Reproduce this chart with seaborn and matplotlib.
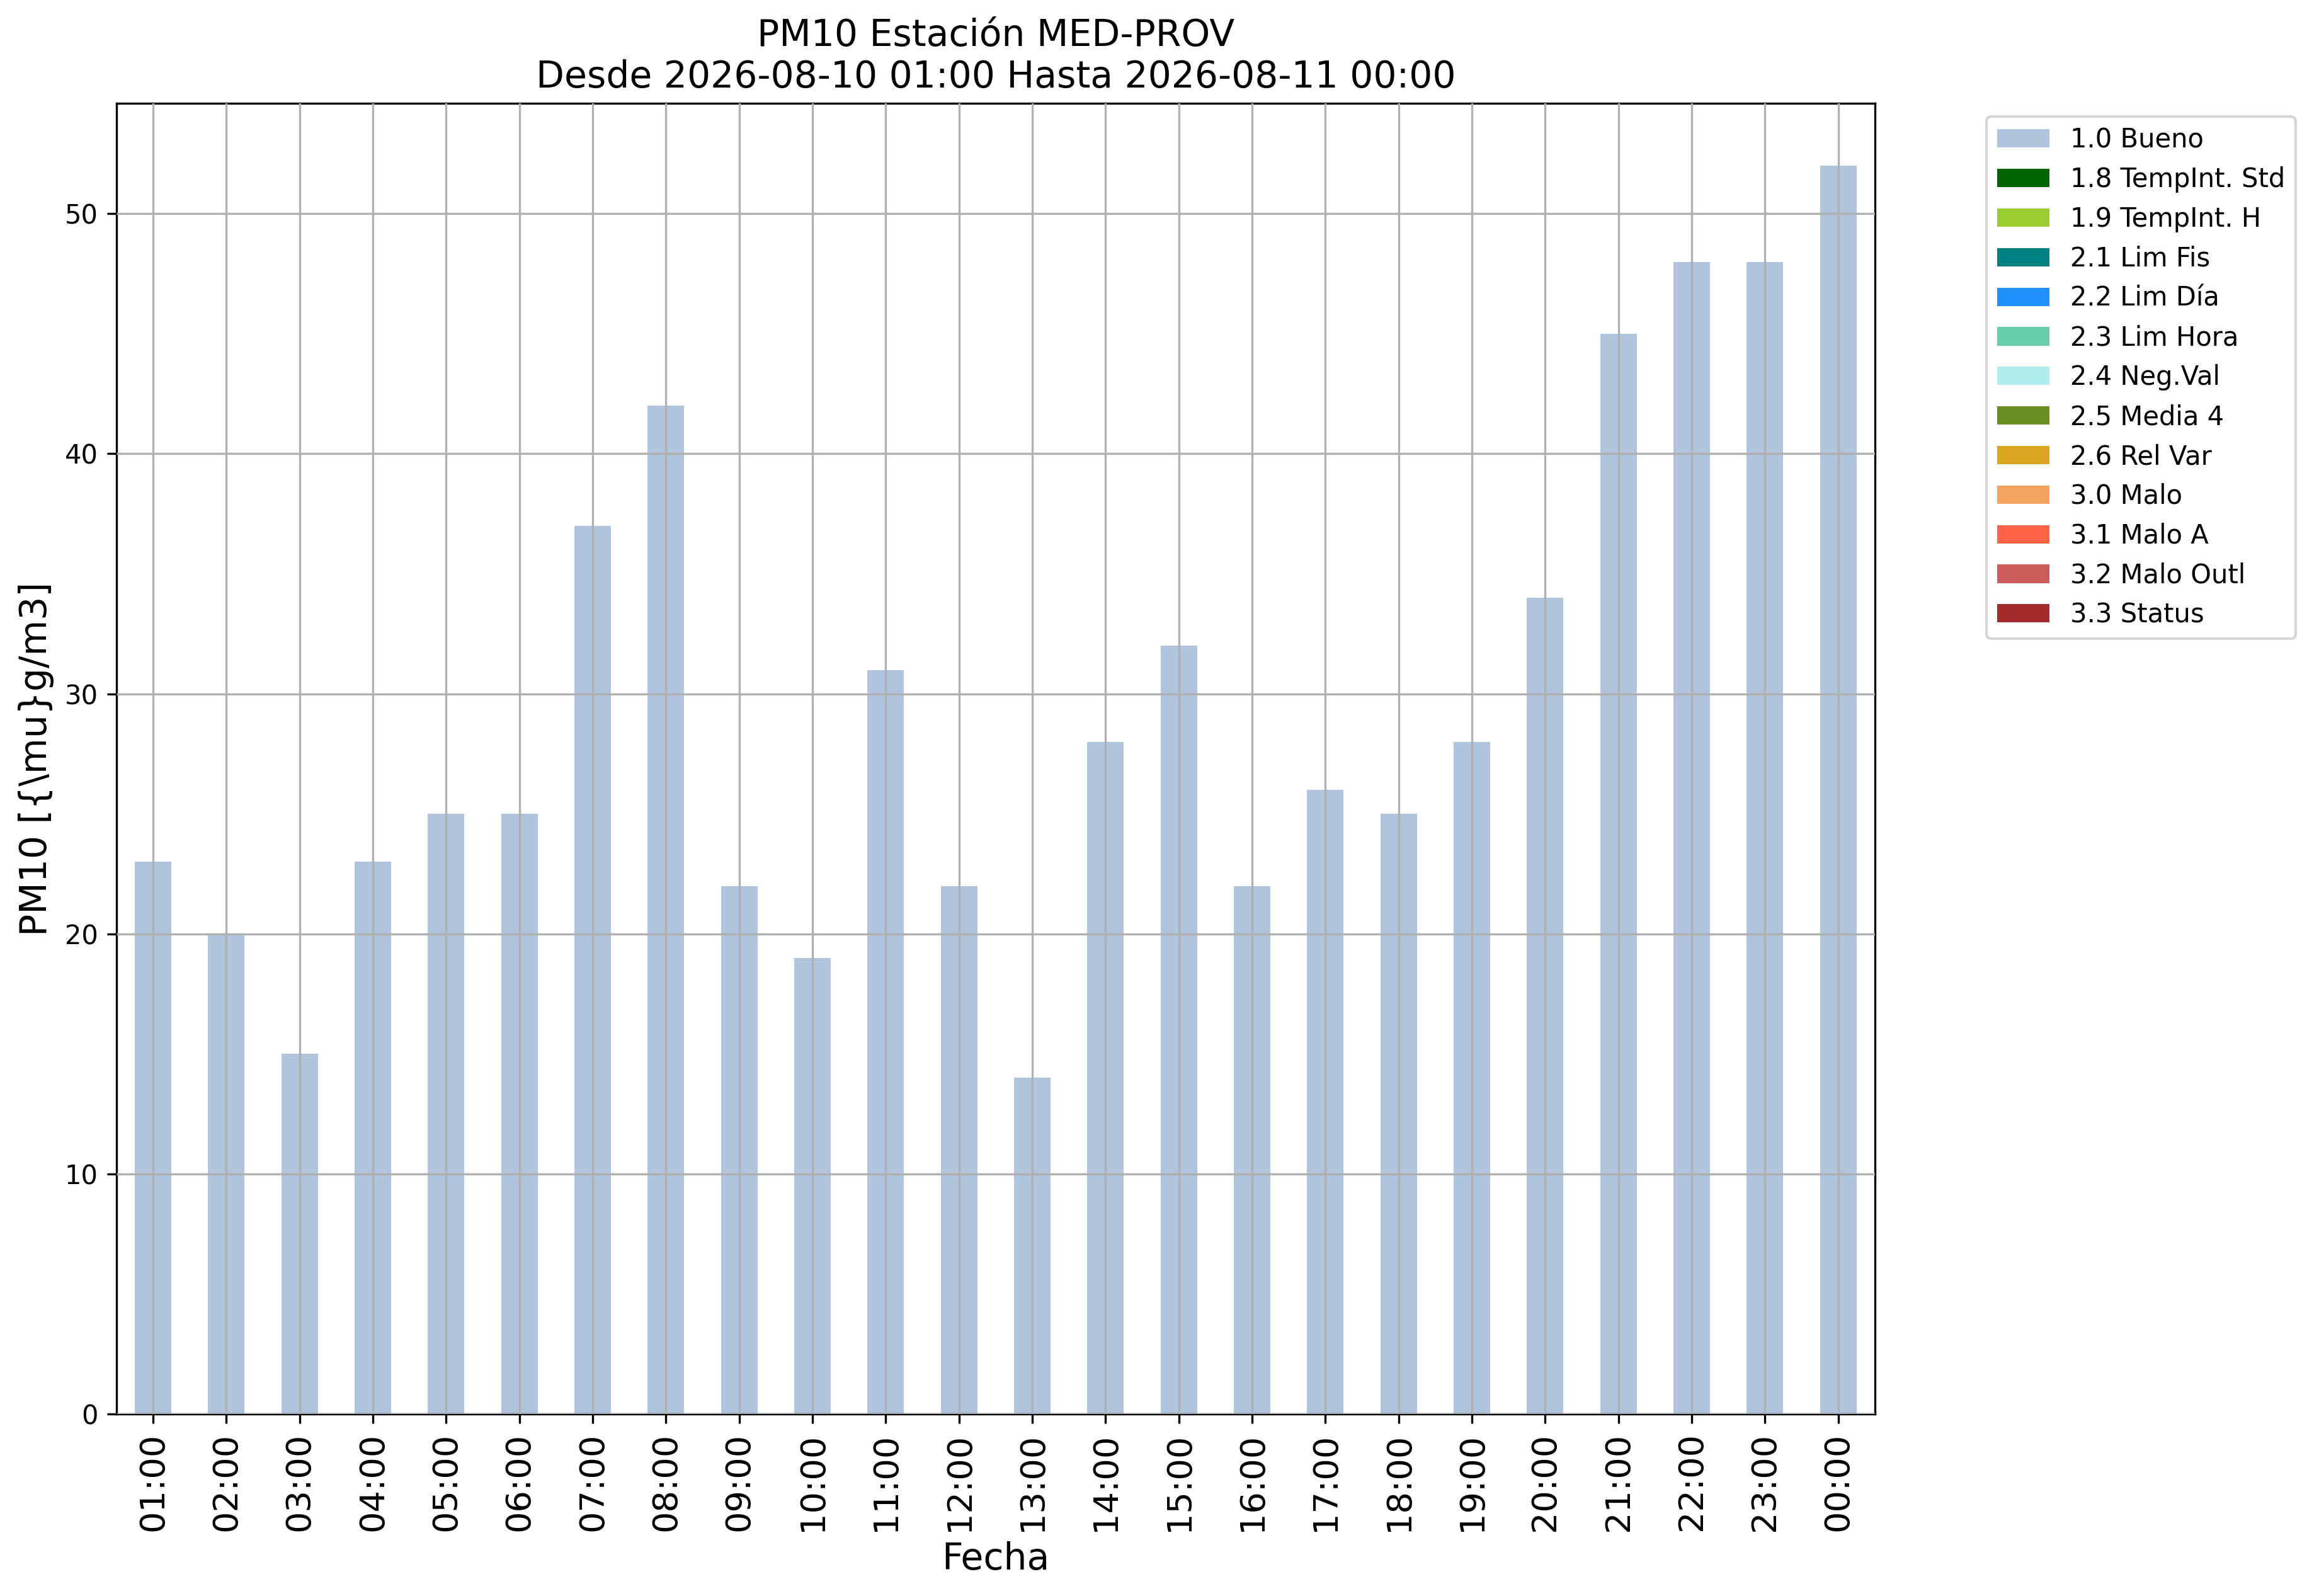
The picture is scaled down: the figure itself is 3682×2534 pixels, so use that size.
import matplotlib
matplotlib.use("Agg")
import matplotlib.pyplot as plt
from matplotlib.patches import Patch
import seaborn as sns
import pandas as pd

hours = ["01:00", "02:00", "03:00", "04:00", "05:00", "06:00", "07:00", "08:00",
         "09:00", "10:00", "11:00", "12:00", "13:00", "14:00", "15:00", "16:00",
         "17:00", "18:00", "19:00", "20:00", "21:00", "22:00", "23:00", "00:00"]
pm10 = [23, 20, 15, 23, 25, 25, 37, 42, 22, 19, 31, 22, 14, 28, 32, 22,
        26, 25, 28, 34, 45, 48, 48, 52]
flag_labels = ["1.0 Bueno", "1.8 TempInt. Std", "1.9 TempInt. H", "2.1 Lim Fis",
               "2.2 Lim Día", "2.3 Lim Hora", "2.4 Neg.Val", "2.5 Media 4",
               "2.6 Rel Var", "3.0 Malo", "3.1 Malo A", "3.2 Malo Outl", "3.3 Status"]
flag_colors = ["lightsteelblue", "darkgreen", "yellowgreen", "teal", "dodgerblue",
               "mediumaquamarine", "paleturquoise", "olivedrab", "goldenrod",
               "sandybrown", "tomato", "indianred", "brown"]

df = pd.DataFrame({"Fecha": hours, "PM10": pm10})

fig = plt.figure(figsize=(3682 / 300, 2534 / 300), dpi=300)
ax = fig.add_axes([0.0502, 0.1140, 0.8085 - 0.0502, 0.9353 - 0.1140])

sns.barplot(data=df, x="Fecha", y="PM10", order=hours, color=flag_colors[0],
            saturation=1, width=0.5, linewidth=0, ax=ax)

ax.set_xlim(-0.5, len(hours) - 0.5)
ax.set_ylim(0, max(pm10) * 1.05)
ax.grid(True, color="#b0b0b0", linewidth=0.8)
ax.set_axisbelow(False)
for p in ax.patches:
    p.set_zorder(1)

ax.tick_params(axis="x", labelsize=13, labelrotation=90)
ax.tick_params(axis="y", labelsize=10)
ax.set_xlabel("Fecha", fontsize=14)
ax.set_ylabel(r"PM10 [{\mu}g/m3]", fontsize=14)
ax.set_title("PM10 Estación MED-PROV\nDesde 2026-08-10 01:00 Hasta 2026-08-11 00:00",
             fontsize=14)

handles = [Patch(facecolor=c, label=l) for c, l in zip(flag_colors, flag_labels)]
ax.legend(handles=handles, loc="upper left", bbox_to_anchor=(1.056, 1), fontsize=10)

fig.savefig("out.png", dpi=300)
